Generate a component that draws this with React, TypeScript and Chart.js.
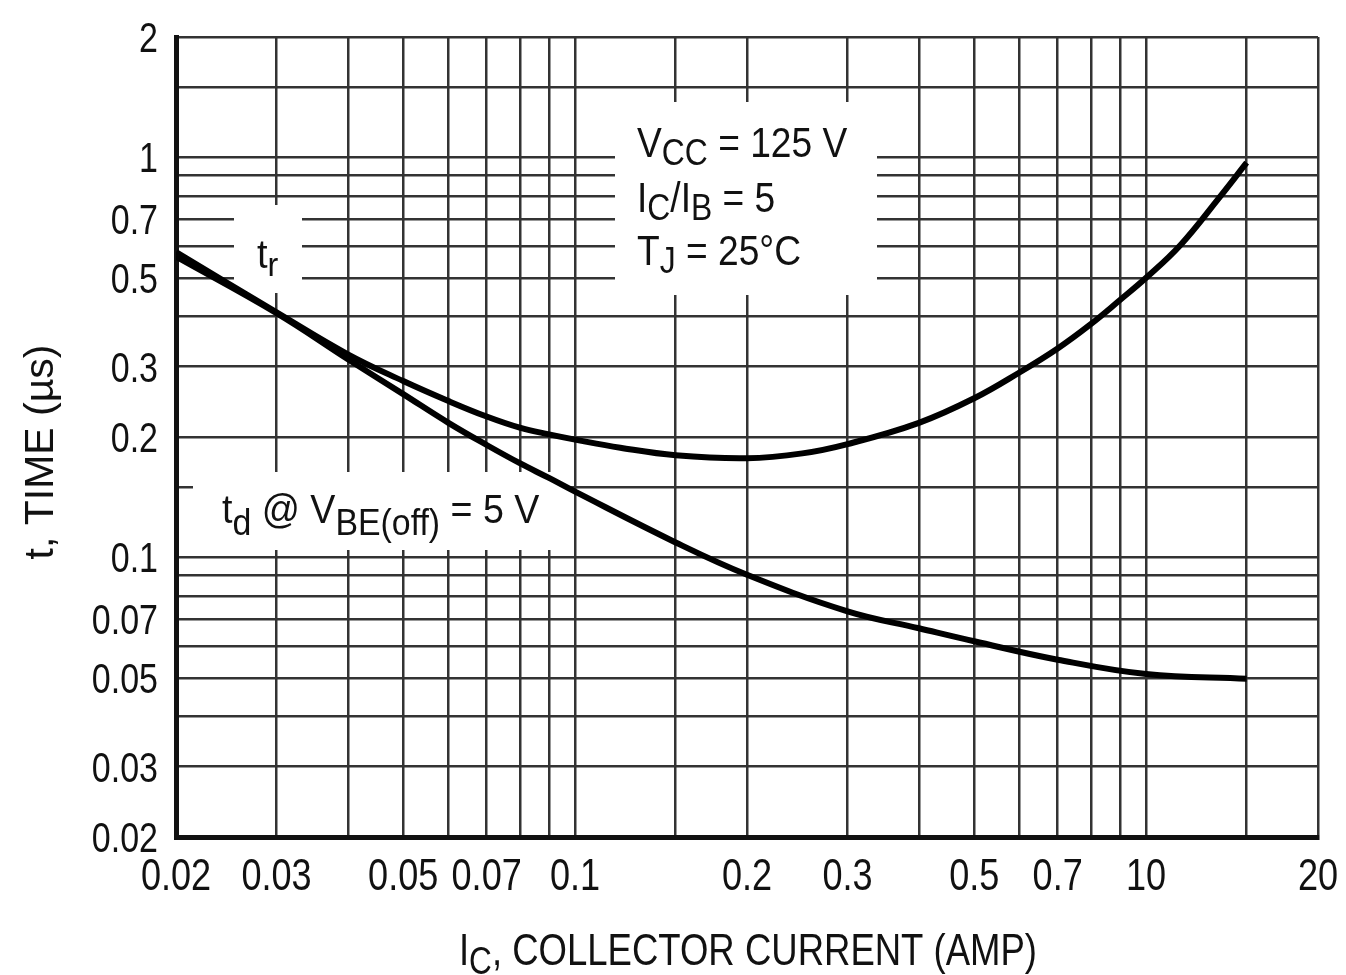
import React, { useEffect, useRef } from 'react';
import { Chart, registerables } from 'chart.js';

Chart.register(...registerables);

// ---- data ----
const gridValues = [0.02, 0.03, 0.04, 0.05, 0.06, 0.07, 0.08, 0.09, 0.1, 0.15, 0.2, 0.3, 0.4, 0.5, 0.6, 0.7, 0.8, 0.9, 1, 1.5, 2];
const xTickValues = [0.02, 0.03, 0.05, 0.07, 0.1, 0.2, 0.3, 0.5, 0.7, 1, 2];
const xTickLabels = ['0.02', '0.03', '0.05', '0.07', '0.1', '0.2', '0.3', '0.5', '0.7', '10', '20'];
const yTickValues = [0.02, 0.03, 0.05, 0.07, 0.1, 0.2, 0.3, 0.5, 0.7, 1, 2];
const yTickLabels = ['0.02', '0.03', '0.05', '0.07', '0.1', '0.2', '0.3', '0.5', '0.7', '1', '2'];

const trCurrent = [0.02, 0.03, 0.04, 0.05, 0.06, 0.07, 0.08, 0.09, 0.1, 0.12, 0.15, 0.2, 0.25, 0.3, 0.4, 0.5, 0.6, 0.7, 0.8, 0.9, 1.0, 1.15, 1.34, 1.5];
const trTime = [0.58, 0.41, 0.322, 0.276, 0.246, 0.225, 0.211, 0.203, 0.197, 0.188, 0.18, 0.177, 0.182, 0.192, 0.217, 0.25, 0.29, 0.333, 0.383, 0.44, 0.5, 0.605, 0.79, 0.97];
const tdCurrent = [0.02, 0.03, 0.04, 0.05, 0.06, 0.07, 0.08, 0.09, 0.1, 0.15, 0.2, 0.3, 0.4, 0.5, 0.7, 1.0, 1.5];
const tdTime = [0.565, 0.408, 0.313, 0.256, 0.217, 0.191, 0.172, 0.158, 0.146, 0.109, 0.0905, 0.0733, 0.0665, 0.0617, 0.0555, 0.0511, 0.0497];

const FONT = "'Liberation Sans', Arial, sans-serif";
const INK = '#111';

type Run = { t: string; sub?: boolean };

function font(size: number) {
  return `${size}px ${FONT}`;
}

function runsWidth(ctx: CanvasRenderingContext2D, runs: Run[], main: number, sub: number) {
  let w = 0;
  for (const r of runs) {
    ctx.font = font(r.sub ? sub : main);
    w += ctx.measureText(r.t).width;
  }
  return w;
}

// draw runs of text (with subscripts), horizontally compressed by sx, starting at x, baseline y
function drawRuns(ctx: CanvasRenderingContext2D, x: number, y: number, runs: Run[], main: number, sub: number, drop: number, sx: number) {
  ctx.save();
  ctx.translate(x, y);
  ctx.scale(sx, 1);
  ctx.textAlign = 'left';
  ctx.textBaseline = 'alphabetic';
  let cx = 0;
  for (const r of runs) {
    ctx.font = font(r.sub ? sub : main);
    ctx.fillText(r.t, cx, r.sub ? drop : 0);
    cx += ctx.measureText(r.t).width;
  }
  ctx.restore();
}

function drawText(ctx: CanvasRenderingContext2D, text: string, x: number, y: number, size: number, sx: number, align: CanvasTextAlign) {
  ctx.save();
  ctx.translate(x, y);
  ctx.scale(sx, 1);
  ctx.font = font(size);
  ctx.textAlign = align;
  ctx.textBaseline = 'alphabetic';
  ctx.fillText(text, 0, 0);
  ctx.restore();
}

const annotationPlugin = {
  id: 'annotationPlugin',
  beforeDatasetsDraw(chart: any) {
    const ctx: CanvasRenderingContext2D = chart.ctx;
    ctx.save();
    ctx.fillStyle = '#fff';
    ctx.fillRect(615, 102, 262, 193);
    ctx.fillRect(234, 205, 68, 88);
    ctx.fillRect(193, 472, 372, 78);

    ctx.fillStyle = INK;
    drawRuns(ctx, 637, 157, [{ t: 'V' }, { t: 'CC', sub: true }, { t: ' = 125 V' }], 42, 36, 8, 0.885);
    drawRuns(ctx, 637, 212, [{ t: 'I' }, { t: 'C', sub: true }, { t: '/I' }, { t: 'B', sub: true }, { t: ' = 5' }], 42, 36, 8, 0.885);
    drawRuns(ctx, 637, 265, [{ t: 'T' }, { t: 'J', sub: true }, { t: ' = 25°C' }], 42, 36, 8, 0.885);

    drawRuns(ctx, 257, 268, [{ t: 't' }, { t: 'r', sub: true }], 40, 34, 8, 0.95);

    drawRuns(ctx, 222, 523, [{ t: 't' }, { t: 'd', sub: true }, { t: ' @ V' }, { t: 'BE(off)', sub: true }, { t: ' = 5 V' }], 40, 36, 12, 0.94);
    ctx.restore();
  },
  afterDraw(chart: any) {
    const ctx: CanvasRenderingContext2D = chart.ctx;
    const xs = chart.scales.x;
    const ys = chart.scales.y;
    const area = chart.chartArea;
    ctx.save();
    ctx.fillStyle = INK;

    // tick labels
    xTickValues.forEach((v, i) => {
      drawText(ctx, xTickLabels[i], xs.getPixelForValue(v), area.bottom + 53, 44, 0.82, 'center');
    });
    yTickValues.forEach((v, i) => {
      drawText(ctx, yTickLabels[i], area.left - 18, ys.getPixelForValue(v) + 15, 42, 0.81, 'right');
    });

    // x title
    const xr: Run[] = [{ t: 'I' }, { t: 'C', sub: true }, { t: ', COLLECTOR CURRENT (AMP)' }];
    const sx = 0.83;
    const w = runsWidth(ctx, xr, 44, 38) * sx;
    drawRuns(ctx, 748 - w / 2, 965, xr, 44, 38, 9, sx);

    // y title
    ctx.translate(42, 452);
    ctx.rotate(-Math.PI / 2);
    ctx.textAlign = 'center';
    ctx.textBaseline = 'middle';
    ctx.font = font(41);
    ctx.fillText('t, TIME (µs)', 0, 0);
    ctx.restore();
  },
};

export default function App() {
  const ref = useRef<HTMLCanvasElement>(null);

  useEffect(() => {
    if (!ref.current) return;
    const chart = new Chart(ref.current, {
      type: 'line',
      data: {
        datasets: [
          {
            label: 'tr',
            data: trCurrent.map((x, i) => ({ x, y: trTime[i] })),
            borderColor: '#000',
            borderWidth: 6,
            pointRadius: 0,
            tension: 0.4,
            fill: false,
          },
          {
            label: 'td',
            data: tdCurrent.map((x, i) => ({ x, y: tdTime[i] })),
            borderColor: '#000',
            borderWidth: 6,
            pointRadius: 0,
            tension: 0.4,
            fill: false,
          },
        ],
      },
      options: {
        animation: false,
        responsive: false,
        devicePixelRatio: 1,
        events: [],
        layout: { padding: { top: 37, right: 28, left: 0, bottom: 0 } },
        plugins: { legend: { display: false }, tooltip: { enabled: false } },
        scales: {
          x: {
            type: 'logarithmic',
            min: 0.02,
            max: 2,
            afterBuildTicks: (s: any) => {
              s.ticks = gridValues.map((v) => ({ value: v }));
            },
            afterFit: (s: any) => {
              s.height = 138;
            },
            grid: { color: '#333', lineWidth: 2.5, drawTicks: false },
            border: { display: true, color: INK, width: 5 },
            ticks: { display: false, autoSkip: false },
          },
          y: {
            type: 'logarithmic',
            min: 0.02,
            max: 2,
            afterBuildTicks: (s: any) => {
              s.ticks = gridValues.map((v) => ({ value: v }));
            },
            afterFit: (s: any) => {
              s.width = 176;
            },
            grid: { color: '#333', lineWidth: 2.5, drawTicks: false },
            border: { display: true, color: INK, width: 5 },
            ticks: { display: false, autoSkip: false },
          },
        },
      },
      plugins: [annotationPlugin],
    } as any);
    return () => chart.destroy();
  }, []);

  return (
    <div style={{ position: 'fixed', left: 0, top: 0, width: 1346, height: 975, background: '#fff' }}>
      <canvas ref={ref} width={1346} height={975} style={{ width: 1346, height: 975, display: 'block' }} />
    </div>
  );
}
